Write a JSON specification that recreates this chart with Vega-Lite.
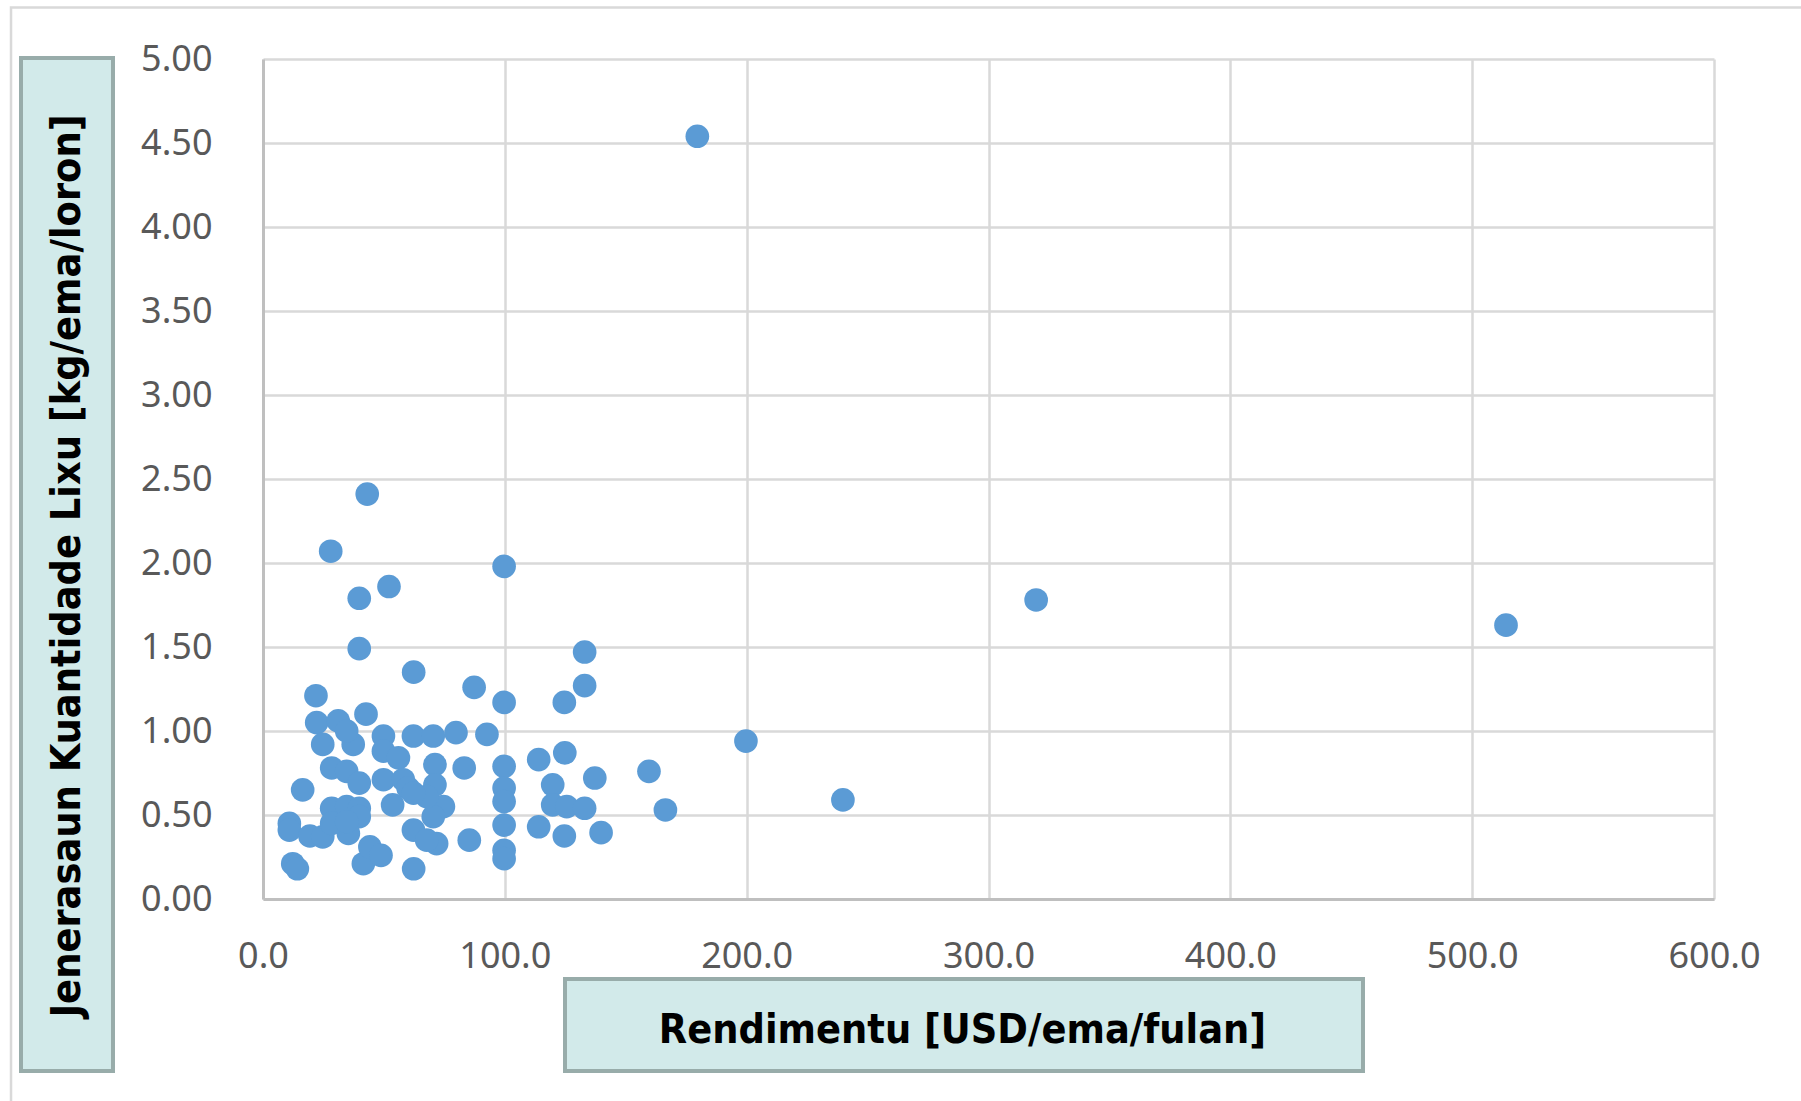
{
  "$schema": "https://vega.github.io/schema/vega-lite/v6.json",
  "width": 1451,
  "height": 840,
  "autosize": {"type": "none"},
  "padding": {"left": 263, "top": 59, "right": 87, "bottom": 202},
  "background": "#ffffff",
  "config": {
    "view": {"stroke": null},
    "axis": {
      "labelFont": "Noto Sans",
      "labelFontSize": 36,
      "labelColor": "#595959",
      "labelFlush": false,
      "ticks": false,
      "grid": true,
      "domainColor": "#bfbfbf",
      "domainWidth": 3,
      "gridColor": "#d9d9d9",
      "gridWidth": 2.5,
      "title": null
    }
  },
  "datasets": {
    "one": [{"k": 1}],
    "points": [
      {"income": 43.1, "waste": 2.41},
      {"income": 28.0, "waste": 2.07},
      {"income": 99.7, "waste": 1.98},
      {"income": 52.1, "waste": 1.86},
      {"income": 39.8, "waste": 1.79},
      {"income": 39.8, "waste": 1.49},
      {"income": 133.0, "waste": 1.47},
      {"income": 62.3, "waste": 1.35},
      {"income": 133.0, "waste": 1.27},
      {"income": 87.3, "waste": 1.26},
      {"income": 21.9, "waste": 1.21},
      {"income": 99.7, "waste": 1.17},
      {"income": 124.6, "waste": 1.17},
      {"income": 42.6, "waste": 1.10},
      {"income": 22.2, "waste": 1.05},
      {"income": 31.1, "waste": 1.06},
      {"income": 49.8, "waste": 0.97},
      {"income": 62.2, "waste": 0.97},
      {"income": 70.4, "waste": 0.97},
      {"income": 79.8, "waste": 0.99},
      {"income": 92.6, "waste": 0.98},
      {"income": 24.7, "waste": 0.92},
      {"income": 37.3, "waste": 0.92},
      {"income": 34.6, "waste": 1.00},
      {"income": 49.8, "waste": 0.88},
      {"income": 56.0, "waste": 0.84},
      {"income": 71.1, "waste": 0.80},
      {"income": 83.2, "waste": 0.78},
      {"income": 99.7, "waste": 0.79},
      {"income": 114.0, "waste": 0.83},
      {"income": 124.8, "waste": 0.87},
      {"income": 137.2, "waste": 0.72},
      {"income": 159.6, "waste": 0.76},
      {"income": 28.4, "waste": 0.78},
      {"income": 34.6, "waste": 0.76},
      {"income": 39.8, "waste": 0.69},
      {"income": 16.4, "waste": 0.65},
      {"income": 49.8, "waste": 0.71},
      {"income": 58.0, "waste": 0.71},
      {"income": 60.0, "waste": 0.66},
      {"income": 53.6, "waste": 0.56},
      {"income": 71.1, "waste": 0.68},
      {"income": 99.7, "waste": 0.66},
      {"income": 99.7, "waste": 0.58},
      {"income": 119.8, "waste": 0.68},
      {"income": 119.8, "waste": 0.56},
      {"income": 125.6, "waste": 0.55},
      {"income": 133.0, "waste": 0.54},
      {"income": 28.4, "waste": 0.54},
      {"income": 34.6, "waste": 0.55},
      {"income": 39.8, "waste": 0.54},
      {"income": 39.8, "waste": 0.49},
      {"income": 10.9, "waste": 0.45},
      {"income": 10.9, "waste": 0.41},
      {"income": 19.4, "waste": 0.375},
      {"income": 24.7, "waste": 0.37},
      {"income": 35.3, "waste": 0.39},
      {"income": 28.4, "waste": 0.45},
      {"income": 34.6, "waste": 0.46},
      {"income": 62.2, "waste": 0.41},
      {"income": 71.8, "waste": 0.33},
      {"income": 74.6, "waste": 0.55},
      {"income": 70.4, "waste": 0.49},
      {"income": 67.7, "waste": 0.35},
      {"income": 85.3, "waste": 0.35},
      {"income": 99.7, "waste": 0.44},
      {"income": 99.7, "waste": 0.29},
      {"income": 99.7, "waste": 0.24},
      {"income": 114.0, "waste": 0.43},
      {"income": 124.6, "waste": 0.375},
      {"income": 139.8, "waste": 0.395},
      {"income": 12.3, "waste": 0.21},
      {"income": 14.2, "waste": 0.18},
      {"income": 41.5, "waste": 0.21},
      {"income": 44.2, "waste": 0.31},
      {"income": 48.8, "waste": 0.26},
      {"income": 62.3, "waste": 0.18},
      {"income": 67.7, "waste": 0.61},
      {"income": 62.2, "waste": 0.63},
      {"income": 179.6, "waste": 4.54},
      {"income": 319.7, "waste": 1.78},
      {"income": 514.0, "waste": 1.63},
      {"income": 199.7, "waste": 0.94},
      {"income": 239.8, "waste": 0.59},
      {"income": 166.4, "waste": 0.53}
    ]
  },
  "layer": [
    {
      "data": {"name": "one"},
      "mark": {"type": "rect", "fill": null, "stroke": "#d9d9d9", "strokeWidth": 2.5},
      "encoding": {
        "x": {"datum": -104.2, "type": "quantitative", "scale": {"domain": [0, 600], "nice": false, "zero": false}, "axis": {"values": [0, 100, 200, 300, 400, 500, 600], "format": ".1f", "labelPadding": 68, "labelBaseline": "alphabetic", "labelDx": -5}},
        "x2": {"datum": 700},
        "y": {"datum": 5.3065, "type": "quantitative", "scale": {"domain": [0, 5], "nice": false, "zero": false}, "axis": {"values": [0, 0.5, 1, 1.5, 2, 2.5, 3, 3.5, 4, 4.5, 5], "format": ".2f", "labelPadding": 51, "labelBaseline": "middle"}},
        "y2": {"datum": -2}
      }
    },
    {
      "data": {"name": "one"},
      "mark": {"type": "rect", "fill": "#d2eaea", "stroke": "#98acaa", "strokeWidth": 4},
      "encoding": {
        "x": {"datum": -100.07, "type": "quantitative", "scale": {"domain": [0, 600], "nice": false, "zero": false}},
        "x2": {"datum": -62.03},
        "y": {"datum": 5.006, "type": "quantitative", "scale": {"domain": [0, 5], "nice": false, "zero": false}},
        "y2": {"datum": -1.024}
      }
    },
    {
      "data": {"name": "one"},
      "mark": {"type": "rect", "fill": "#d2eaea", "stroke": "#98acaa", "strokeWidth": 4},
      "encoding": {
        "x": {"datum": 124.88, "type": "quantitative", "scale": {"domain": [0, 600], "nice": false, "zero": false}},
        "x2": {"datum": 454.86},
        "y": {"datum": -0.476, "type": "quantitative", "scale": {"domain": [0, 5], "nice": false, "zero": false}},
        "y2": {"datum": -1.024}
      }
    },
    {
      "data": {"name": "one"},
      "mark": {"type": "text", "text": "Jenerasaun Kuantidade Lixu [kg/ema/loron]", "angle": 270, "font": "DejaVu Sans Condensed", "fontSize": 41, "fontWeight": "bold", "color": "#000000", "align": "center", "baseline": "alphabetic"},
      "encoding": {
        "x": {"datum": -75.5, "type": "quantitative", "scale": {"domain": [0, 600], "nice": false, "zero": false}},
        "y": {"datum": 1.982, "type": "quantitative", "scale": {"domain": [0, 5], "nice": false, "zero": false}}
      }
    },
    {
      "data": {"name": "one"},
      "mark": {"type": "text", "text": "Rendimentu [USD/ema/fulan]", "font": "DejaVu Sans Condensed", "fontSize": 41, "fontWeight": "bold", "color": "#000000", "align": "center", "baseline": "alphabetic"},
      "encoding": {
        "x": {"datum": 289.25, "type": "quantitative", "scale": {"domain": [0, 600], "nice": false, "zero": false}},
        "y": {"datum": -0.8595, "type": "quantitative", "scale": {"domain": [0, 5], "nice": false, "zero": false}}
      }
    },
    {
      "data": {"name": "points"},
      "mark": {"type": "circle", "size": 560, "color": "#5b9bd5", "opacity": 1},
      "encoding": {
        "x": {"field": "income", "type": "quantitative", "scale": {"domain": [0, 600], "nice": false, "zero": false}},
        "y": {"field": "waste", "type": "quantitative", "scale": {"domain": [0, 5], "nice": false, "zero": false}}
      }
    }
  ]
}
